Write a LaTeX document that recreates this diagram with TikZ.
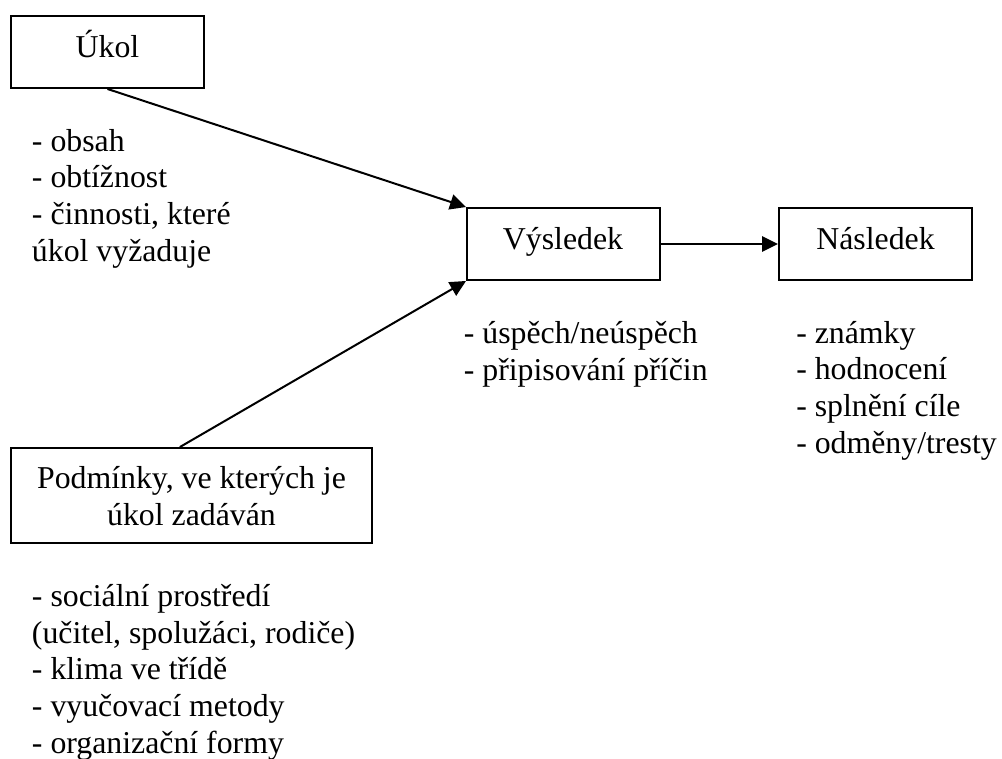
\documentclass[tikz,border=0pt]{standalone}
\usepackage{fontspec}
\setmainfont{Liberation Serif}
\usetikzlibrary{arrows.meta,calc}
\begin{document}
\begin{tikzpicture}[x=0.75pt,y=-0.75pt,
  boxnode/.style={draw,line width=1.45pt,inner sep=0pt},
  txt/.style={inner sep=0pt,anchor=base,font=\fontsize{23.85pt}{27.4pt}\selectfont},
  lst/.style={txt,align=left,anchor=base west},
  conn/.style={line width=1.5pt,-{Triangle[length=12pt,width=11.5pt]}}]
\useasboundingbox (0,0) rectangle (1002,758);
\fill[white] (0,0) rectangle (1002,758);
% boxes
\node[boxnode,minimum width=193*0.75pt,minimum height=72*0.75pt] (ukol) at (107.5,52) {};
\node[boxnode,minimum width=193*0.75pt,minimum height=72*0.75pt] (vys) at (563.5,244) {};
\node[boxnode,minimum width=193*0.75pt,minimum height=72*0.75pt] (nas) at (875.5,244) {};
\node[boxnode,minimum width=361*0.75pt,minimum height=95*0.75pt] (pod) at (191.5,495.5) {};
% box texts
\node[txt] (ukolt) at (107.5,57.3) {Úkol};
\node[txt] (vyst) at (563,249) {Výsledek};
\node[txt] (nast) at (875.5,249) {Následek};
\node[txt,align=center] (podt) at (191.5,525) {Podmínky, ve kterých je\\úkol zadáván};
% lists (anchor at baseline of last line)
\node[lst] (ukoll) at (31.7,261) {- obsah\\- obtížnost\\- činnosti, které\\úkol vyžaduje};
\node[lst] (vysl) at (463.6,380) {- úspěch/neúspěch\\- připisování příčin};
\node[lst] (nasl) at (796,453) {- známky\\- hodnocení\\- splnění cíle\\- odměny/tresty};
\node[lst] (podl) at (31.7,753) {- sociální prostředí\\(učitel, spolužáci, rodiče)\\- klima ve třídě\\- vyučovací metody\\- organizační formy};
% connectors
\draw[conn] (ukol.south) -- (vys.north west);
\coordinate (podtop) at ($(pod.north west)!0.468!(pod.north east)$);
\draw[conn] (podtop) -- (vys.south west);
\draw[conn] (vys.east) -- (nas.west);
\end{tikzpicture}
\end{document}
